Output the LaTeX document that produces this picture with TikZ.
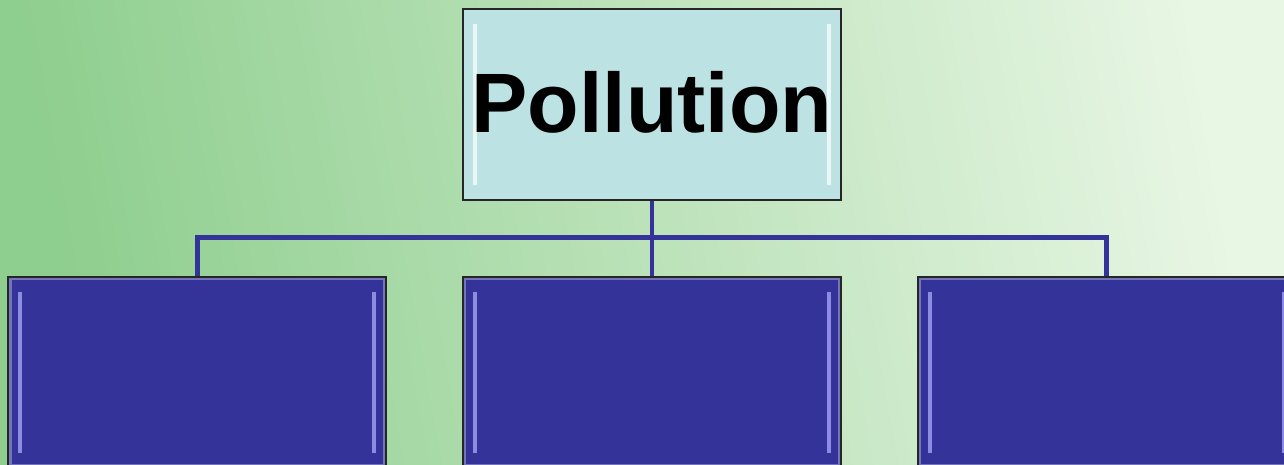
\documentclass[tikz,border=0pt]{standalone}
\usepackage{fontspec}
\setmainfont{Liberation Sans}
\usetikzlibrary{positioning,calc}
\definecolor{bgleft}{HTML}{8ECE8E}
\definecolor{bgright}{HTML}{E8F6E4}
\definecolor{capfill}{HTML}{BDE2E3}
\definecolor{boxfill}{HTML}{333399}
\definecolor{linkcol}{HTML}{333399}
\tikzset{
  bevel/.style = {path picture={
    \draw[#1, line width=2pt, opacity=.7]
      ([xshift=0.24cm,yshift=-0.3cm]path picture bounding box.north west) --
      ([xshift=0.24cm,yshift=0.3cm]path picture bounding box.south west);
    \draw[#1, line width=2pt, opacity=.7]
      ([xshift=-0.24cm,yshift=-0.3cm]path picture bounding box.north east) --
      ([xshift=-0.24cm,yshift=0.3cm]path picture bounding box.south east);
  }},
  capbox/.style = {rectangle, draw=black!85, line width=1pt, fill=capfill,
    minimum width=7.56cm, minimum height=3.82cm, inner sep=0pt,
    font=\fontsize{48}{58}\selectfont\bfseries, bevel=white},
  subbox/.style = {rectangle, draw=black!85, line width=1pt, fill=boxfill,
    minimum width=7.56cm, minimum height=3.82cm, inner sep=0pt,
    bevel=blue!30!white},
  frame/.style = {draw=boxfill!60!white, line width=1.5pt, opacity=.8},
  link/.style = {draw=linkcol, line width=2.8pt}
}
\begin{document}
\begin{tikzpicture}[node distance=1.5cm]
\useasboundingbox (0,0) rectangle (25.68,-9.3);
\shade[left color=bgleft, right color=bgright, shading angle=100] (0,0) rectangle (25.68,-9.3);

\node[capbox] (top) at (13.04,-2.09) {\raisebox{3pt}{Pollution}};
\node[subbox, below=of top] (mid) {};
\node[subbox, left=of mid] (left) {};
\node[subbox, right=of mid] (right) {};

% inner light rim of the lower boxes
\foreach \b in {left,mid,right}
  \draw[frame] ([shift={(0.06,-0.06)}]\b.north west) rectangle ([shift={(-0.06,0.06)}]\b.south east);

\coordinate (bus) at ($(top.south)+(0,-0.74)$);
\draw[link] (top.south) -- (mid.north);
\draw[link] (left.north) |- (bus) -| (right.north);

\end{tikzpicture}
\end{document}
